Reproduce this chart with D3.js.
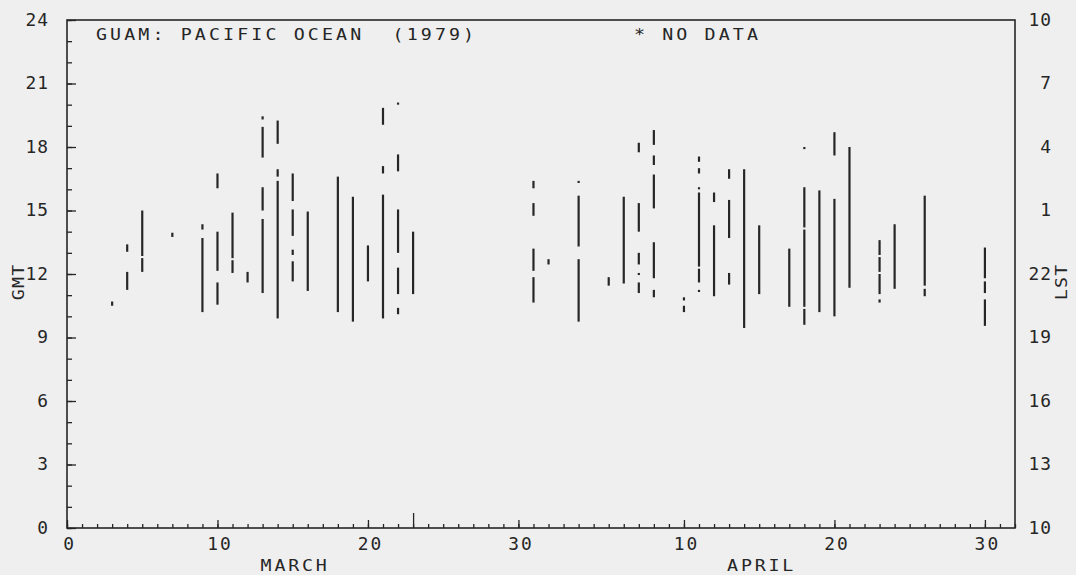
<!DOCTYPE html>
<html><head><meta charset="utf-8">
<script src="https://cdn.jsdelivr.net/npm/d3@7"></script>
<style>
html,body{margin:0;padding:0;background:#efefef;}
svg{display:block;}
text{font-family:"DejaVu Sans Mono",monospace;fill:#262626;}
</style></head><body>
<svg id="chart" width="1076" height="575"></svg>
<script>
// Day number counted from the start of March (32 = 1 April)
const obsDays = [3,4,5,7,9,10,11,12,13,14,15,16,18,19,20,21,22,23,
                 31,32,34,36,37,38,39,41,42,43,44,45,46,48,49,50,51,52,54,55,57,61];
// Observing periods per day, GMT hours [start, end]
const obsPeriods = [
  [[10.5,10.7]],
  [[11.25,12.1],[13.05,13.4]],
  [[12.1,12.75],[12.85,15.0]],
  [[13.75,13.95]],
  [[10.2,13.7],[14.1,14.35]],
  [[10.55,11.6],[12.15,14.0],[16.05,16.75]],
  [[12.05,12.65],[12.75,14.9]],
  [[11.6,12.1]],
  [[11.1,14.6],[15.0,16.1],[17.5,18.95],[19.3,19.45]],
  [[9.9,16.4],[16.6,16.95],[18.15,19.25]],
  [[11.65,12.6],[12.9,13.15],[13.8,15.05],[15.45,16.75]],
  [[11.2,14.95]],
  [[10.2,16.6]],
  [[9.75,15.65]],
  [[11.65,13.35]],
  [[9.9,15.75],[16.75,17.1],[19.05,19.85]],
  [[10.1,10.4],[11.05,12.3],[13.0,15.05],[16.85,17.65],[20.0,20.1]],
  [[11.05,14.0]],
  [[10.65,11.85],[12.15,13.2],[14.75,15.35],[16.05,16.4]],
  [[12.45,12.7]],
  [[9.75,12.7],[13.3,15.7],[16.3,16.4]],
  [[11.45,11.85]],
  [[11.55,15.65]],
  [[11.1,11.6],[11.95,12.05],[12.45,13.0],[14.0,15.35],[17.75,18.2]],
  [[10.9,11.25],[11.8,13.5],[15.1,16.7],[17.15,17.6],[18.1,18.8]],
  [[10.2,10.5],[10.75,10.9]],
  [[11.15,11.25],[11.6,12.25],[12.35,15.85],[16.0,16.1],[16.75,17.0],[17.3,17.55]],
  [[10.95,14.3],[15.4,15.85]],
  [[11.5,12.05],[13.7,15.5],[16.5,16.95]],
  [[9.45,16.95]],
  [[11.05,14.3]],
  [[10.45,13.2]],
  [[9.6,10.35],[10.45,14.1],[14.2,16.1],[17.9,18.0]],
  [[10.2,15.95]],
  [[10.0,15.55],[17.6,18.7]],
  [[11.35,18.0]],
  [[10.65,10.8],[11.05,12.0],[12.1,12.8],[12.9,13.6]],
  [[11.3,14.35]],
  [[10.95,11.3],[11.45,15.7]],
  [[9.55,10.8],[11.1,11.65],[11.8,13.25]]
];

// Axis labels
const dayTicks = [0,10,20,30,41,51,61];
const dayTickLabels = ["0","10","20","30","10","20","30"];
const monthNames = ["MARCH","APRIL"];
const monthCenters = [15,46];
const gmtTicks = [0,3,6,9,12,15,18,21,24];
const gmtLabels = ["0","3","6","9","12","15","18","21","24"];
const lstLabels = ["10","13","16","19","22","1","4","7","10"];
const titleText = "GUAM: PACIFIC OCEAN  (1979)";
const noDataText = "* NO DATA";

const ink = "#262626";
const FONT = '"DejaVu Sans Mono",monospace';
const SX = 1.22;            // horizontal stretch of the lettering
const SXD = 1.05;           // stretch of the axis numbers
const svg = d3.select("#chart");

const x = d3.scaleLinear().domain([0,63]).range([67, 1015]);
const y = d3.scaleLinear().domain([0,24]).range([528, 20]);

// stretched text: anchor point (px,py) in page units
function stretchText(sel, size, spacing, anchor) {
  const trail = anchor === "end" ? spacing : anchor === "middle" ? spacing / 2 : 0;
  sel.attr("font-family", FONT).attr("fill", ink)
     .attr("font-size", size).attr("letter-spacing", spacing)
     .attr("text-anchor", anchor).attr("dx", trail)
     .style("white-space", "pre");
  return sel;
}
function label(px, py, str, size, spacing, anchor, rotate) {
  const g = svg.append("g").attr("transform", `translate(${px},${py})` + (rotate ? ` rotate(${rotate})` : ""));
  const t = g.append("text").attr("transform", `scale(${SX},1)`).text(str);
  stretchText(t, size, spacing, anchor);
  return t;
}

// bottom axis: day ticks pointing into the plot
const gx = svg.append("g").attr("transform", `translate(0,${y(0)})`);
gx.append("g").call(d3.axisBottom(x).tickValues(d3.range(0,64)).tickSizeInner(-4).tickSizeOuter(0).tickFormat(""));
const gxMajor = gx.append("g").call(d3.axisBottom(x).tickValues(dayTicks).tickSizeInner(-8).tickSizeOuter(0)
    .tickFormat((d,i) => dayTickLabels[i]));
gx.append("g").call(d3.axisBottom(x).tickValues([23]).tickSizeInner(-15).tickSizeOuter(0).tickFormat(""));
gx.selectAll(".domain").remove();
gx.selectAll("line").attr("stroke", ink).attr("stroke-width", 1.3);
gxMajor.selectAll("text").attr("y", 0).attr("dy", 0)
  .attr("transform", `translate(1,21.5) scale(${SXD},1)`)
  .call(stretchText, 17, 2, "middle");

// left axis: GMT hours
const gy = svg.append("g").attr("transform", `translate(${x(0)},0)`);
gy.append("g").call(d3.axisLeft(y).tickValues(d3.range(0,25)).tickSizeInner(-5).tickSizeOuter(0).tickFormat(""));
const gyMajor = gy.append("g").call(d3.axisLeft(y).tickValues(gmtTicks).tickSizeInner(-9).tickSizeOuter(0)
    .tickFormat((d,i) => gmtLabels[i]));
gy.selectAll(".domain").remove();
gy.selectAll("line").attr("stroke", ink).attr("stroke-width", 1.3);
gyMajor.selectAll("text").attr("x", 0)
  .attr("transform", `translate(-19,0) scale(${SXD},1)`)
  .call(stretchText, 17, 1, "end");

// right axis: local standard time labels
const gr = svg.append("g").attr("transform", `translate(${x(63)},0)`);
gr.call(d3.axisRight(y).tickValues(gmtTicks).tickSize(0).tickFormat((d,i) => lstLabels[i]));
gr.select(".domain").remove();
gr.selectAll("text").attr("x", 0)
  .attr("transform", `translate(${1051 - x(63)},0) scale(${SXD},1)`)
  .call(stretchText, 17, 1, "end");

// frame
svg.append("rect")
  .attr("x", x(0)).attr("y", y(24))
  .attr("width", x(63) - x(0)).attr("height", y(0) - y(24))
  .attr("fill", "none").attr("stroke", ink).attr("stroke-width", 1.6);

// observation bars
const bars = svg.append("g").attr("stroke", ink).attr("stroke-width", 2.2);
obsDays.forEach((d, i) => {
  bars.selectAll(null).data(obsPeriods[i]).enter().append("line")
    .attr("x1", x(d)).attr("x2", x(d))
    .attr("y1", p => y(p[0])).attr("y2", p => y(p[1]));
});

// titles
label(96, 40, titleText, 15, 2.55, "start");
label(634, 40, noDataText, 15, 2.55, "start");

// month names
monthNames.forEach((m, i) => label(x(monthCenters[i]) + 1, 571, m, 15, 2.3, "middle"));

// vertical axis titles
label(24, y(11.6), "GMT", 15, 1, "middle", -90);
label(1067, y(11.6), "LST", 15, 1, "middle", -90);
</script>
</body></html>
